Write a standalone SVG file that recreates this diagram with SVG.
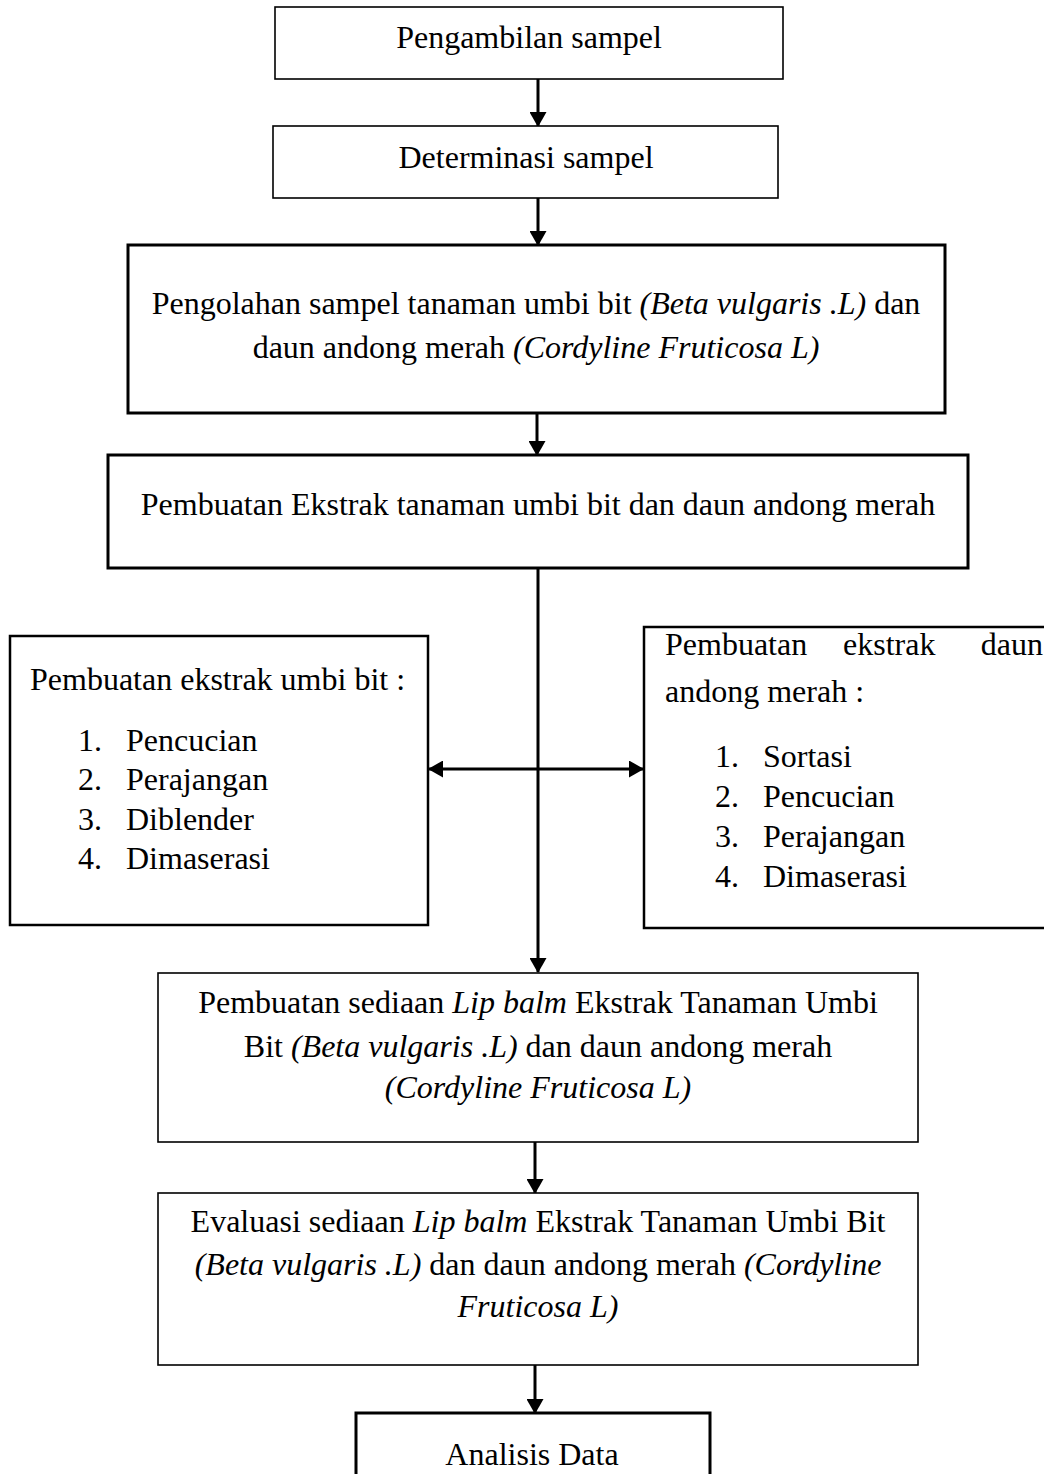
<svg xmlns="http://www.w3.org/2000/svg" width="1044" height="1474" viewBox="0 0 1044 1474">
<style>
text{font-family:"Liberation Serif","Times New Roman",serif;font-size:32px;fill:#000}
.c{text-anchor:middle}
.i{font-style:italic}
.thin{fill:#fff;stroke:#000;stroke-width:1.6}
.thick{fill:#fff;stroke:#000;stroke-width:3}
.mid{fill:#fff;stroke:#000;stroke-width:2.5}
.conn{stroke:#000;stroke-width:3;fill:none}
</style>
<defs>
<marker id="ah" viewBox="0 0 15 17" refX="14" refY="8.5" markerWidth="15" markerHeight="17" markerUnits="userSpaceOnUse" orient="auto-start-reverse">
<path d="M0,0 L15,8.5 L0,17 Z" fill="#000"/>
</marker>
</defs>
<g id="connectors">
<line class="conn" x1="538" y1="79" x2="538" y2="126" marker-end="url(#ah)"/>
<line class="conn" x1="538" y1="198" x2="538" y2="245" marker-end="url(#ah)"/>
<line class="conn" x1="537" y1="413" x2="537" y2="455" marker-end="url(#ah)"/>
<line class="conn" x1="538" y1="568" x2="538" y2="972" marker-end="url(#ah)"/>
<line class="conn" x1="429" y1="769" x2="643" y2="769" marker-start="url(#ah)" marker-end="url(#ah)"/>
<line class="conn" x1="535" y1="1142" x2="535" y2="1193" marker-end="url(#ah)"/>
<line class="conn" x1="535" y1="1365" x2="535" y2="1413" marker-end="url(#ah)"/>
</g>
<g id="n1">
<rect class="thin" x="275" y="7" width="508" height="72"/>
<text class="c" x="529" y="48">Pengambilan sampel</text>
</g>
<g id="n2">
<rect class="thin" x="273" y="126" width="505" height="72"/>
<text class="c" x="526" y="168">Determinasi sampel</text>
</g>
<g id="n3">
<rect class="thick" x="128" y="245" width="817" height="168"/>
<text class="c" x="536" y="314">Pengolahan sampel tanaman umbi bit <tspan class="i">(Beta vulgaris .L)</tspan> dan</text>
<text class="c" x="536" y="358">daun andong merah <tspan class="i">(Cordyline Fruticosa L)</tspan></text>
</g>
<g id="n4">
<rect class="thick" x="108" y="455" width="860" height="113"/>
<text class="c" x="538" y="515">Pembuatan Ekstrak tanaman umbi bit dan daun andong merah</text>
</g>
<g id="n5">
<rect class="mid" x="10" y="636" width="418" height="289"/>
<text x="30" y="690">Pembuatan ekstrak umbi bit :</text>
<text x="78" y="751">1.</text><text x="126" y="751">Pencucian</text>
<text x="78" y="790">2.</text><text x="126" y="790">Perajangan</text>
<text x="78" y="830">3.</text><text x="126" y="830">Diblender</text>
<text x="78" y="869">4.</text><text x="126" y="869">Dimaserasi</text>
</g>
<g id="n6">
<rect class="mid" x="644" y="627" width="410" height="301"/>
<text x="665" y="655">Pembuatan</text>
<text x="843" y="655">ekstrak</text>
<text x="1043" y="655" style="text-anchor:end">daun</text>
<text x="665" y="702">andong merah :</text>
<text x="715" y="767">1.</text><text x="763" y="767">Sortasi</text>
<text x="715" y="807">2.</text><text x="763" y="807">Pencucian</text>
<text x="715" y="847">3.</text><text x="763" y="847">Perajangan</text>
<text x="715" y="887">4.</text><text x="763" y="887">Dimaserasi</text>
</g>
<g id="n7">
<rect class="thin" x="158" y="973" width="760" height="169"/>
<text class="c" x="538" y="1013">Pembuatan sediaan <tspan class="i">Lip balm</tspan>  Ekstrak Tanaman Umbi</text>
<text class="c" x="538" y="1057">Bit <tspan class="i">(Beta vulgaris .L)</tspan> dan daun andong merah</text>
<text class="c i" x="538" y="1098">(Cordyline Fruticosa L)</text>
</g>
<g id="n8">
<rect class="thin" x="158" y="1193" width="760" height="172"/>
<text class="c" x="538" y="1232">Evaluasi sediaan <tspan class="i">Lip balm</tspan>  Ekstrak Tanaman Umbi Bit</text>
<text class="c" x="538" y="1275"><tspan class="i">(Beta vulgaris .L)</tspan> dan daun andong merah <tspan class="i">(Cordyline</tspan></text>
<text class="c i" x="538" y="1317">Fruticosa L)</text>
</g>
<g id="n9">
<rect class="thick" x="356" y="1413" width="354" height="80"/>
<text class="c" x="532" y="1465">Analisis Data</text>
</g>
</svg>
